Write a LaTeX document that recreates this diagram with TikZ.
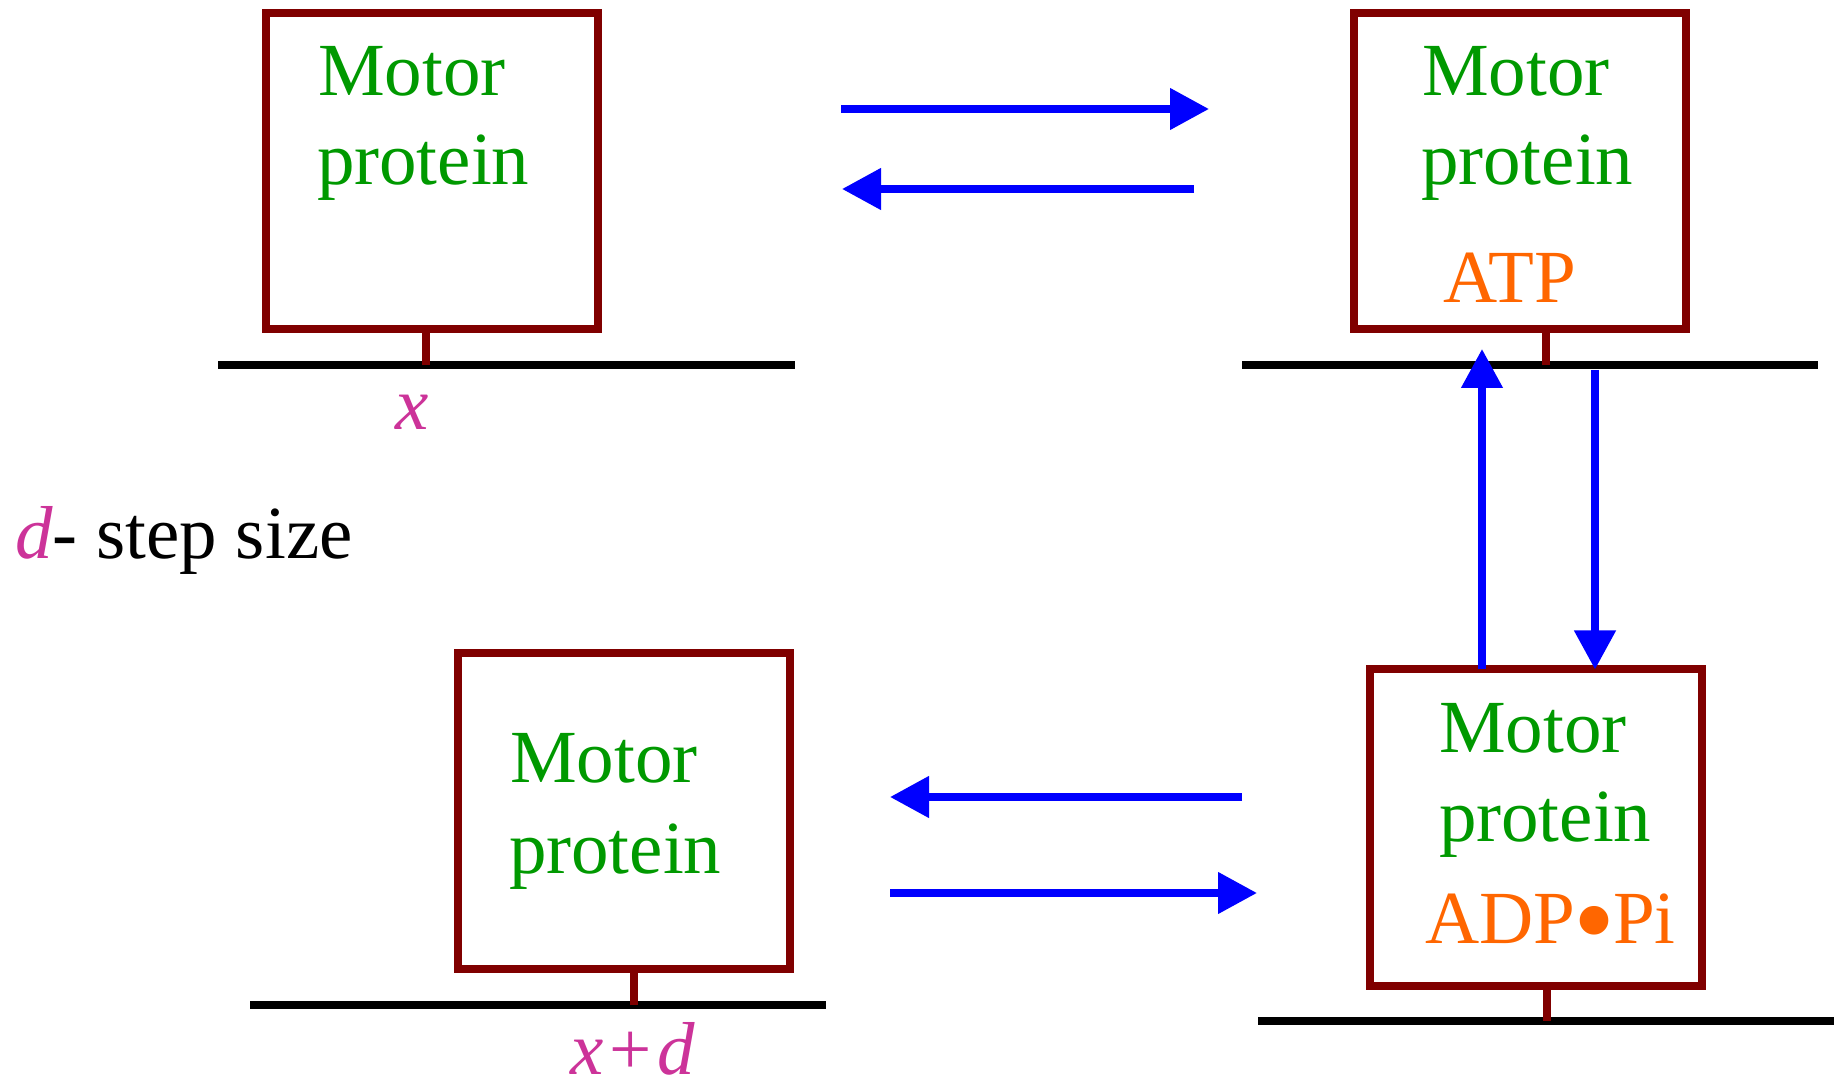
\documentclass[tikz,border=0pt]{standalone}
\usepackage{fontspec}
\setmainfont{Liberation Serif}
\usetikzlibrary{arrows.meta}
\definecolor{boxred}{HTML}{800000}
\definecolor{mgreen}{HTML}{009900}
\definecolor{morange}{HTML}{FF6600}
\definecolor{mmag}{HTML}{CC3399}
\definecolor{mblue}{HTML}{0000FF}
\begin{document}
\begin{tikzpicture}[x=0.5pt,y=-0.5pt,
  motorbox/.style={draw=boxred, line width=4pt, rectangle, inner sep=0pt, outer sep=0pt,
    minimum width=166pt, minimum height=158pt},
  stem/.style={draw=boxred, line width=4pt},
  track/.style={draw=black, line width=4pt},
  txt/.style={inner sep=0pt, outer sep=0pt, anchor=base west, font=\fontsize{37.5pt}{44pt}\selectfont},
  greentxt/.style={txt, text=mgreen},
  orangetxt/.style={txt, text=morange},
  magtxt/.style={txt, text=mmag, anchor=base},
  flow/.style={draw=mblue, line width=3.85pt, -{Triangle[length=19.5pt,width=20pt]}}
]
\useasboundingbox (0,0) rectangle (1837,1090);

% boxes
\node[motorbox] (b1) at (432,171) {};
\node[motorbox] (b2) at (1520,171) {};
\node[motorbox] (b3) at (1536,827.5) {};
\node[motorbox] (b4) at (624,811) {};

% tracks
\coordinate (t1a) at (218,365);  \coordinate (t1b) at (795,365);
\coordinate (t2a) at (1242,365); \coordinate (t2b) at (1818,365);
\coordinate (t3a) at (1258,1021); \coordinate (t3b) at (1834,1021);
\coordinate (t4a) at (250,1005); \coordinate (t4b) at (826,1005);
\draw[track] (t1a) -- (t1b);
\draw[track] (t2a) -- (t2b);
\draw[track] (t3a) -- (t3b);
\draw[track] (t4a) -- (t4b);

% stems
\draw[stem] (b1.south -| 426,0) -- (t1a -| 426,0);
\draw[stem] (b2.south -| 1546,0) -- (t2a -| 1546,0);
\draw[stem] (b3.south -| 1547,0) -- (t3a -| 1547,0);
\draw[stem] (b4.south -| 634,0) -- (t4a -| 634,0);

% texts
\node[greentxt] (m1a) at (318,96) {Motor};
\node[greentxt] (m1b) at (317,185) {protein};
\node[greentxt] (m2a) at (1422,96) {Motor};
\node[greentxt] (m2b) at (1421,185) {protein};
\node[orangetxt] (m2c) at (1443,303) {ATP};
\node[greentxt] (m3a) at (1439,752) {Motor};
\node[greentxt] (m3b) at (1439,841) {protein};
\node[orangetxt] (m3c) at (1425,943) {ADP\kern-1pt\raisebox{-8.5pt}{\scalebox{1.6}{•}}\kern-1pt Pi};
\node[greentxt] (m4a) at (510,783) {Motor};
\node[greentxt] (m4b) at (509,873) {protein};

\node[magtxt] (lx) at (412,430) {\textit{x}};
\node[magtxt] (lxd) at (633,1074) {\textit{x}\kern3pt+\kern3pt\textit{d}};
\node[txt] (ld) at (15,559) {\textcolor{mmag}{\textit{d}}- step size};

% horizontal arrows
\coordinate (a1s) at (841,109);  \coordinate (a1e) at (1209,109);
\coordinate (a2s) at (1194,189); \coordinate (a2e) at (842,189);
\coordinate (a3s) at (1242,797); \coordinate (a3e) at (890,797);
\coordinate (a4s) at (890,893);  \coordinate (a4e) at (1257,893);
\draw[flow] (a1s) -- (a1e);
\draw[flow] (a2s) -- (a2e);
\draw[flow] (a3s) -- (a3e);
\draw[flow] (a4s) -- (a4e);

% vertical arrows
\coordinate (upe) at (1482,349);
\coordinate (dns) at (1595,370);
\draw[flow] (b3.north -| upe) -- (upe);
\draw[flow] (dns) -- (b3.north -| dns);
\end{tikzpicture}
\end{document}
